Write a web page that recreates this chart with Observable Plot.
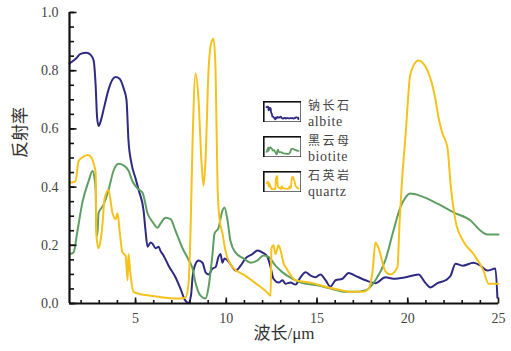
<!DOCTYPE html>
<html><head><meta charset="utf-8">
<script src="https://cdn.jsdelivr.net/npm/d3@7"></script>
<script src="https://cdn.jsdelivr.net/npm/@observablehq/plot@0.6"></script>
<style>
body{margin:0;background:#fff;}
#wrap{position:relative;width:511px;height:351px;overflow:hidden;}
.icon{position:absolute;left:263px;width:38px;height:21px;}
.cn{position:absolute;left:308px;color:#444;font-family:"Noto Sans CJK SC",sans-serif;font-size:12px;line-height:13px;letter-spacing:2.5px;white-space:nowrap;}
.en{position:absolute;left:308px;color:#444;font-family:"Liberation Serif",serif;font-size:14px;line-height:13px;letter-spacing:0.6px;white-space:nowrap;}
</style></head><body><div id="wrap"></div>
<script>
// ---- data (wavelength µm, reflectance) ----
const seriesNames = ["钠长石", "黑云母", "石英岩"];
const seriesEn = ["albite", "biotite", "quartz"];
const seriesColors = ["#2e2a82", "#5e9e62", "#f5c21b"];

const albiteX = [1.36,1.69,1.97,2.30,2.52,2.69,2.80,2.88,2.96,3.07,3.29,3.51,3.73,3.90,4.12,4.34,4.50,4.61,4.78,5.00,5.17,5.44,5.55,5.66,5.83,5.94,6.10,6.27,6.38,6.54,6.82,7.20,7.48,7.70,7.92,8.06,8.14,8.31,8.47,8.69,8.86,9.02,9.24,9.41,9.57,9.68,9.79,9.90,10.07,10.34,10.51,10.79,11.06,11.45,11.72,12.00,12.27,12.44,12.60,12.88,13.10,13.26,13.54,13.82,14.09,14.37,14.64,14.92,15.19,15.47,15.74,16.02,16.40,16.74,17.12,17.67,18.22,18.77,19.21,19.88,20.59,20.98,21.25,21.64,22.08,22.36,22.63,23.02,23.62,24.01,24.39,24.83,24.94];
const albiteY = [0.825,0.84,0.858,0.862,0.855,0.835,0.75,0.64,0.61,0.625,0.68,0.735,0.77,0.778,0.772,0.74,0.70,0.56,0.48,0.43,0.39,0.32,0.25,0.195,0.21,0.205,0.19,0.195,0.18,0.165,0.13,0.09,0.05,0.015,0.002,0.03,0.09,0.137,0.148,0.14,0.107,0.10,0.12,0.125,0.16,0.17,0.14,0.155,0.148,0.125,0.113,0.13,0.155,0.17,0.182,0.175,0.16,0.125,0.085,0.072,0.08,0.068,0.072,0.065,0.09,0.107,0.096,0.09,0.10,0.08,0.058,0.08,0.085,0.105,0.095,0.08,0.07,0.09,0.085,0.09,0.10,0.07,0.055,0.07,0.08,0.095,0.137,0.13,0.14,0.13,0.113,0.12,0.02];

const biotiteX = [1.36,1.58,1.80,2.08,2.41,2.63,2.74,2.80,2.85,2.91,2.96,3.24,3.51,3.79,4.06,4.34,4.61,4.83,5.11,5.39,5.66,5.94,6.21,6.38,6.65,6.93,7.20,7.59,7.92,8.14,8.31,8.58,8.86,9.02,9.24,9.35,9.57,9.79,9.90,10.07,10.23,10.51,10.95,11.34,11.72,12.05,12.33,12.71,13.10,13.65,14.20,15.08,15.85,16.46,17.12,17.67,18.22,18.77,19.21,19.59,19.88,20.15,20.70,21.64,22.52,23.46,24.01,24.39,25.00];
const biotiteY = [0.17,0.175,0.25,0.35,0.42,0.455,0.43,0.39,0.23,0.25,0.31,0.34,0.39,0.457,0.48,0.475,0.457,0.42,0.395,0.38,0.31,0.28,0.26,0.275,0.295,0.29,0.25,0.19,0.15,0.12,0.07,0.027,0.017,0.055,0.17,0.24,0.26,0.32,0.33,0.285,0.215,0.175,0.155,0.14,0.148,0.165,0.16,0.13,0.107,0.085,0.07,0.062,0.05,0.04,0.04,0.045,0.08,0.15,0.25,0.33,0.365,0.378,0.37,0.343,0.313,0.285,0.25,0.237,0.237];

const quartzX = [1.36,1.69,1.86,2.13,2.36,2.58,2.69,2.80,2.85,2.96,3.07,3.18,3.29,3.51,3.73,3.90,4.01,4.12,4.28,4.45,4.56,4.61,4.72,4.89,5.28,5.83,6.65,7.48,7.75,7.92,8.03,8.14,8.31,8.47,8.64,8.75,8.86,9.02,9.19,9.30,9.41,9.52,9.63,9.79,9.96,10.34,11.06,11.78,12.22,12.44,12.49,12.60,12.71,12.88,13.04,13.15,13.32,13.82,14.75,15.63,16.40,16.85,17.56,17.84,18.06,18.22,18.39,18.77,19.05,19.43,19.55,19.66,19.88,20.15,20.59,21.09,21.53,21.69,21.91,22.19,22.36,22.63,23.05,23.62,24.17,24.45,25.00];
const quartzY = [0.415,0.42,0.49,0.505,0.51,0.50,0.48,0.45,0.23,0.19,0.215,0.275,0.36,0.39,0.31,0.29,0.31,0.25,0.175,0.165,0.08,0.17,0.10,0.04,0.032,0.027,0.02,0.017,0.02,0.07,0.25,0.55,0.79,0.70,0.48,0.405,0.5,0.80,0.90,0.91,0.80,0.40,0.29,0.24,0.18,0.125,0.095,0.062,0.04,0.027,0.19,0.20,0.17,0.20,0.17,0.14,0.12,0.08,0.07,0.055,0.045,0.04,0.04,0.05,0.11,0.21,0.19,0.11,0.10,0.125,0.28,0.40,0.58,0.79,0.835,0.80,0.70,0.64,0.585,0.535,0.41,0.285,0.215,0.17,0.113,0.068,0.068];

const xMajor = [5, 10, 15, 20, 25];
const xMinor = d3.range(2, 25);
const yMajor = [0, 0.2, 0.4, 0.6, 0.8, 1.0];
const yMinor = d3.range(0, 1.0001, 0.05);
const xTitle = "波长/μm";
const yTitle = "反射率";
const xDomain = [1.36, 25];

const xs = [albiteX, biotiteX, quartzX];
const ys = [albiteY, biotiteY, quartzY];
const rows = seriesEn.flatMap((n, k) => xs[k].map((x, i) => ({x, y: ys[k][i], name: n})));

// inward tick shapes (length = r)
const tickRight = {draw(c, s) { const r = Math.sqrt(s / Math.PI); c.moveTo(0, 0); c.lineTo(r, 0); }};
const tickUp = {draw(c, s) { const r = Math.sqrt(s / Math.PI); c.moveTo(0, 0); c.lineTo(0, -r); }};

const font = '"Liberation Serif", "Noto Sans CJK SC", serif';
const chart = Plot.plot({
  width: 511, height: 351,
  marginLeft: 69, marginRight: 13, marginTop: 12, marginBottom: 48,
  style: {fontFamily: font, fontSize: "14px", color: "#000", background: "transparent"},
  x: {domain: xDomain},
  y: {domain: [0, 1]},
  color: {domain: seriesEn, range: seriesColors},
  marks: [
    Plot.line(rows, {x: "x", y: "y", stroke: "name", z: "name", curve: "monotone-x", strokeWidth: 2}),
    Plot.dot(yMinor, {x: () => xDomain[0], y: d => d, symbol: tickRight, r: 4.5, fill: "none", stroke: "#111", strokeWidth: 1.6}),
    Plot.dot(yMajor, {x: () => xDomain[0], y: d => d, symbol: tickRight, r: 7, fill: "none", stroke: "#111", strokeWidth: 1.6}),
    Plot.dot(xMinor, {x: d => d, y: () => 0, symbol: tickUp, r: 3.5, fill: "none", stroke: "#111", strokeWidth: 1.6}),
    Plot.dot(xMajor, {x: d => d, y: () => 0, symbol: tickUp, r: 6, fill: "none", stroke: "#111", strokeWidth: 1.6}),
    Plot.axisY({ticks: yMajor, tickSize: 0, tickPadding: 11, tickFormat: d => d.toFixed(1), label: null, fill: "#444", fontSize: 14, style: "letter-spacing:1px"}),
    Plot.axisX({ticks: xMajor, tickSize: 0, tickPadding: 10, tickFormat: d => String(d), label: null, fill: "#444", fontSize: 14}),
    Plot.ruleX([xDomain[0]], {strokeWidth: 2.2, stroke: "#111"}),
    Plot.ruleY([0], {strokeWidth: 2.2, stroke: "#111"}),
    Plot.text([yTitle], {frameAnchor: "left", dx: -49, rotate: -90, fontSize: 17, fill: "#333", fontFamily: '"Noto Sans CJK SC"'}),
    Plot.text([xTitle], {frameAnchor: "bottom", dy: 35, fontSize: 17, fill: "#333"})
  ]
});
const wrap = document.getElementById("wrap");
wrap.appendChild(chart);

// legend: miniature plots of each series + labels
const tops = [101, 136, 171];
seriesEn.forEach((n, k) => {
  const icon = Plot.plot({
    width: 38, height: 21, margin: 0,
    x: {domain: xDomain, axis: null, range: [3, 35]},
    y: {domain: [0, 1], axis: null, range: [18, 3]},
    marks: [
      Plot.line(rows.filter(r => r.name === n), {x: "x", y: "y", stroke: seriesColors[k], strokeWidth: 1.8, curve: "monotone-x"}),
      Plot.frame({stroke: "#111", strokeWidth: 2.2})
    ]
  });
  const d = document.createElement("div");
  d.className = "icon"; d.style.top = tops[k] + "px";
  d.appendChild(icon); wrap.appendChild(d);
  const c = document.createElement("div");
  c.className = "cn"; c.style.top = (tops[k] - 3) + "px"; c.textContent = seriesNames[k];
  wrap.appendChild(c);
  const e = document.createElement("div");
  e.className = "en"; e.style.top = (tops[k] + 14) + "px"; e.textContent = seriesEn[k];
  wrap.appendChild(e);
});
</script>
</body></html>
